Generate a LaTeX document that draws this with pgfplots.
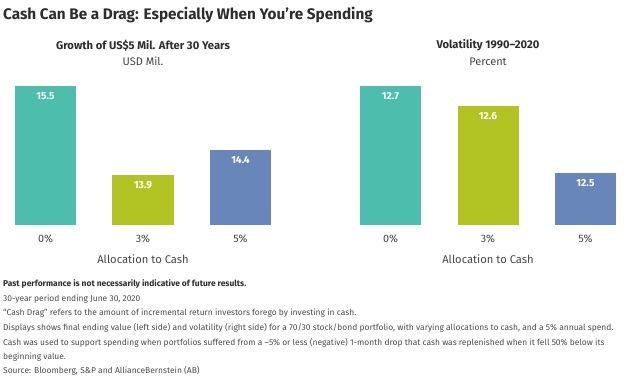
\documentclass[border=0pt]{standalone}
\usepackage{pgfplots}
\pgfplotsset{compat=1.18}
\usepackage{fontspec}
\setmainfont{Fira Sans}
\newfontfamily\titlefont{Fira Sans}
\newfontfamily\notefont{Fira Sans}
\definecolor{cteal}{RGB}{77,190,173}
\definecolor{clime}{RGB}{178,196,36}
\definecolor{cblue}{RGB}{104,134,186}
\definecolor{titlegray}{RGB}{45,45,45}
\definecolor{textgray}{RGB}{70,70,70}
\definecolor{notegray}{RGB}{75,75,75}
\begin{document}
\begin{tikzpicture}
\useasboundingbox (0,0) rectangle (638pt,-378pt);
\pgfplotsset{barax/.style={
  scale only axis, width=273pt, height=139.3pt,
  xmin=-0.4, xmax=2.4,
  axis line style={draw=none},
  ytick=\empty, xtick={0,1,2}, xticklabels={0\%,3\%,5\%},
  major tick length=0pt,
  xticklabel style={font=\titlefont\fontsize{10.8}{13}\selectfont, text=textgray, anchor=center, yshift=-14pt},
  xlabel={Allocation to Cash},
  xlabel style={font=\titlefont\fontsize{11.2}{13}\selectfont, text=textgray, at={(axis description cs:0.5,0)}, anchor=center, yshift=-34pt},
  ybar, bar width=61pt, bar shift=0pt,
  nodes near coords, point meta=explicit symbolic,
  every node near coord/.append style={anchor=north, text=white, font=\titlefont\bfseries\fontsize{10.2}{12}\selectfont, yshift=-3pt},
  clip=false, anchor=south west}}

% Left: Growth of US$5 Mil.
\begin{axis}[barax, at={(6.5pt,-225pt)}, ymin=13, ymax=15.5]
\addplot[fill=cteal, draw=none] coordinates {(0,15.5) [15.5]};
\addplot[fill=clime, draw=none] coordinates {(1,13.9) [13.9]};
\addplot[fill=cblue, draw=none] coordinates {(2,14.35) [14.4]};
\end{axis}

% Right: Volatility
\begin{axis}[barax, at={(351.5pt,-225pt)}, ymin=12, ymax=12.7]
\addplot[fill=cteal, draw=none] coordinates {(0,12.7) [12.7]};
\addplot[fill=clime, draw=none] coordinates {(1,12.6) [12.6]};
\addplot[fill=cblue, draw=none] coordinates {(2,12.26) [12.5]};
\end{axis}

\node[anchor=west, inner sep=0pt, text=titlegray, font=\titlefont\bfseries\fontsize{15.3}{17}\selectfont] at (3pt,-15pt) {Cash Can Be a Drag: Especially When You’re Spending};

\node[inner sep=0pt, text=titlegray, font=\titlefont\bfseries\fontsize{11.2}{13}\selectfont] at (143pt,-45.5pt) {Growth of US\$5 Mil. After 30 Years};
\node[inner sep=0pt, text=textgray, font=\titlefont\fontsize{11}{13}\selectfont] at (143pt,-61.5pt) {USD Mil.};
\node[inner sep=0pt, text=titlegray, font=\titlefont\bfseries\fontsize{11.2}{13}\selectfont] at (488pt,-45.5pt) {Volatility 1990–2020};
\node[inner sep=0pt, text=textgray, font=\titlefont\fontsize{11}{13}\selectfont] at (488pt,-61.5pt) {Percent};

\begin{scope}[every node/.style={anchor=west, inner sep=0pt, text=notegray, font=\notefont\fontsize{8.45}{10}\selectfont}]
\node[text=titlegray, font=\notefont\bfseries\fontsize{8.45}{10}\selectfont] at (3pt,-284.5pt) {Past performance is not necessarily indicative of future results.};
\node at (3pt,-299pt) {30-year period ending June 30, 2020};
\node at (3pt,-313.5pt) {“Cash Drag” refers to the amount of incremental return investors forego by investing in cash.};
\node at (3pt,-328pt) {Displays shows final ending value (left side) and volatility (right side) for a 70/30 stock/bond portfolio, with varying allocations to cash, and a 5\% annual spend.};
\node at (3pt,-342.5pt) {Cash was used to support spending when portfolios suffered from a –5\% or less (negative) 1-month drop that cash was replenished when it fell 50\% below its};
\node at (3pt,-357pt) {beginning value.};
\node at (3pt,-371pt) {Source: Bloomberg, S\&P and AllianceBernstein (AB)};
\end{scope}
\end{tikzpicture}
\end{document}
